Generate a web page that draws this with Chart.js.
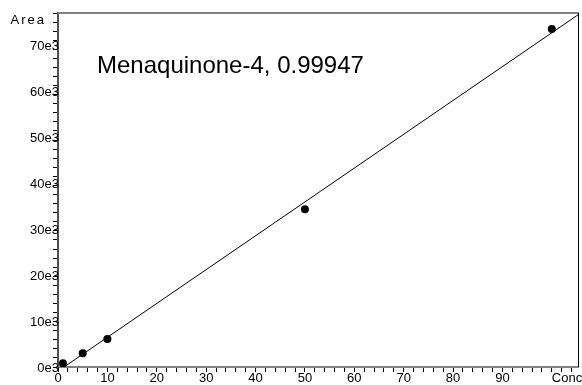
<!DOCTYPE html>
<html>
<head>
<meta charset="utf-8">
<script src="https://cdn.jsdelivr.net/npm/chart.js@4/dist/chart.umd.min.js"></script>
<style>
html,body{margin:0;padding:0;background:#fff;}
#wrap{width:582px;height:385px;position:relative;}
</style>
</head>
<body>
<div id="wrap"><canvas id="c" width="582" height="385"></canvas></div>
<script>
// Calibration points (Conc, Area)
const concValues = [1, 5, 10, 50, 100];
const areaValues = [800, 3000, 6100, 34300, 73500];
// Fitted calibration line endpoints
const fitConc = [0, 105.3];
const fitArea = [-900, 76600];
const titleText = "Menaquinone-4, 0.99947";
const xAxisTitle = "Conc";
const yAxisTitle = "Area";
const xTickLabels = [0, 10, 20, 30, 40, 50, 60, 70, 80, 90];
const yTickValues = [0, 10000, 20000, 30000, 40000, 50000, 60000, 70000];
const yTickLabels = ["0e3", "10e3", "20e3", "30e3", "40e3", "50e3", "60e3", "70e3"];
const xRange = [0, 105.3];
const yRange = [0, 77000];

const FONT = "'Liberation Sans', Arial, sans-serif";

const framePlugin = {
  id: 'frame',
  afterDraw(chart) {
    const ctx = chart.ctx, a = chart.chartArea;
    const xs = chart.scales.x, ys = chart.scales.y;
    ctx.save();
    // top border
    ctx.strokeStyle = '#808080'; ctx.lineWidth = 2;
    ctx.beginPath(); ctx.moveTo(a.left, a.top); ctx.lineTo(a.right + 1, a.top); ctx.stroke();
    // right border
    ctx.strokeStyle = '#000'; ctx.lineWidth = 1;
    ctx.beginPath(); ctx.moveTo(a.right + 0.5, a.top); ctx.lineTo(a.right + 0.5, a.bottom); ctx.stroke();
    // title text
    ctx.fillStyle = '#000';
    ctx.font = '24px ' + FONT;
    ctx.textAlign = 'left'; ctx.textBaseline = 'alphabetic';
    ctx.fillText(titleText, 97, 73);
    // y tick labels
    ctx.font = '13px ' + FONT;
    ctx.textBaseline = 'middle';
    ctx.textAlign = 'right';
    yTickValues.forEach((v, i) => {
      ctx.fillText(yTickLabels[i], a.left + 1, ys.getPixelForValue(v) + 1);
    });
    // axis titles
    ctx.textAlign = 'left';
    ctx.fillText(xAxisTitle, xs.getPixelForValue(100), 378);
    ctx.textAlign = 'right';
    ctx.letterSpacing = '2px';
    ctx.fillText(yAxisTitle, 46, 20);
    ctx.restore();
  }
};

new Chart(document.getElementById('c'), {
  type: 'scatter',
  data: {
    datasets: [
      {
        type: 'line',
        data: fitConc.map((x, i) => ({x: x, y: fitArea[i]})),
        borderColor: '#000',
        borderWidth: 1,
        pointRadius: 0,
        fill: false,
        tension: 0
      },
      {
        data: concValues.map((x, i) => ({x: x, y: areaValues[i]})),
        backgroundColor: '#000',
        borderColor: '#000',
        pointRadius: 4,
        pointBorderWidth: 0
      }
    ]
  },
  options: {
    responsive: false,
    animation: false,
    devicePixelRatio: 1,
    layout: {padding: {left: 0, right: 2, top: 13, bottom: 0}},
    plugins: {legend: {display: false}, tooltip: {enabled: false}},
    scales: {
      x: {
        type: 'linear', min: xRange[0], max: xRange[1],
        afterFit(s) { s.height = 18; },
        grid: {drawOnChartArea: false, tickLength: 5, tickColor: '#000', tickWidth: 1},
        border: {color: '#808080', width: 2},
        ticks: {
          stepSize: 2, includeBounds: false, autoSkip: false, maxRotation: 0, minRotation: 0,
          padding: -1, color: '#000', font: {family: FONT, size: 13},
          callback: v => xTickLabels.includes(v) ? String(v) : ''
        }
      },
      y: {
        type: 'linear', min: yRange[0], max: yRange[1],
        afterFit(s) { s.width = 58; },
        grid: {drawOnChartArea: false, tickLength: 5, tickColor: '#000', tickWidth: 1},
        border: {color: '#505050', width: 2},
        ticks: {
          stepSize: 2000, includeBounds: false, autoSkip: false,
          color: '#000', font: {family: FONT, size: 13},
          callback: () => ''
        }
      }
    }
  },
  plugins: [framePlugin]
});
</script>
</body>
</html>
